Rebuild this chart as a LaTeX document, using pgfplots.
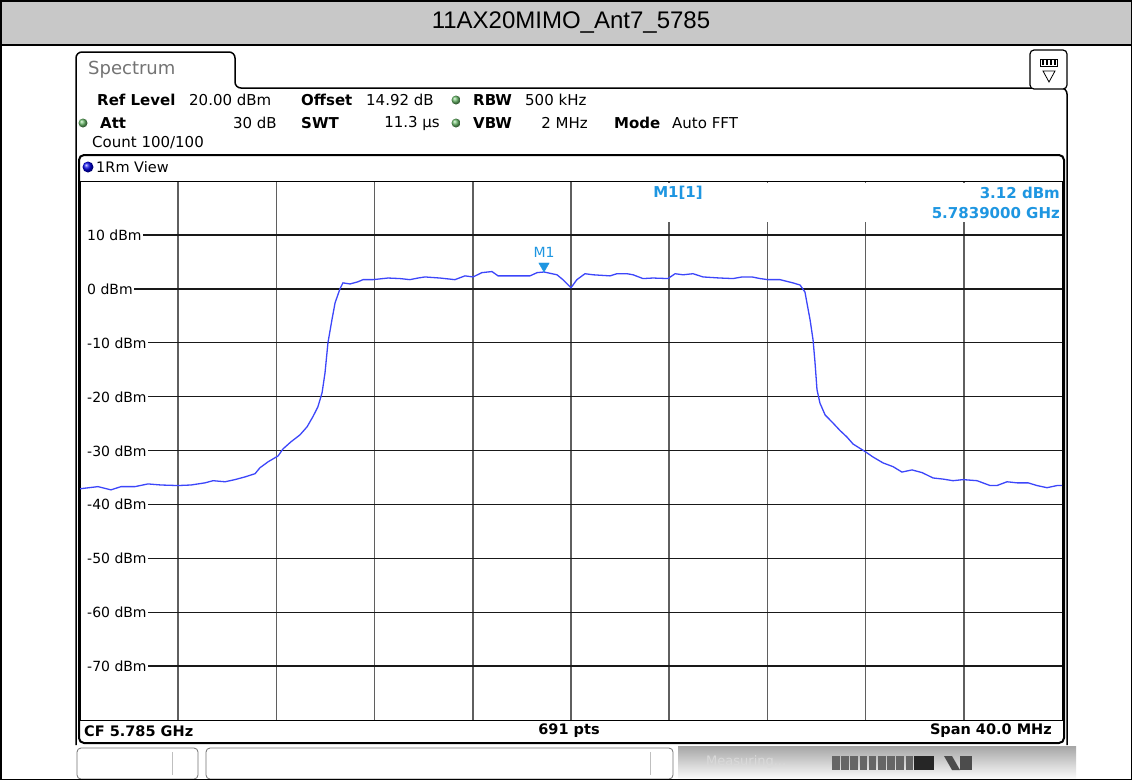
\documentclass[border=0pt]{standalone}
\usepackage{pgfplots}
\pgfplotsset{compat=1.18}
\usepackage{fontspec}
\setmainfont{DejaVu Sans}
\newfontfamily\titlefont{Liberation Sans}
\definecolor{trace}{RGB}{60,70,250}
\definecolor{mk}{RGB}{30,150,225}
\definecolor{titlegray}{RGB}{200,200,200}
\definecolor{led}{RGB}{105,185,105}
\definecolor{vgrid}{RGB}{95,95,95}
\newcommand{\fs}[1]{\fontsize{#1}{#1}\selectfont}
\begin{document}
\begin{tikzpicture}[x=1pt,y=1pt]
\fill[white] (0,0) rectangle (1132,-780);
% title bar
\fill[titlegray] (0,0) rectangle (1132,-45);
\draw[line width=1.5pt] (0,-45) -- (1132,-45);
\node at (571,-23) {\titlefont\fs{24}11AX20MIMO\_Ant7\_5785};
% outer instrument frame with tab
\draw[line width=1.5pt, rounded corners=6pt] (76,-745) -- (76,-52) -- (235,-52) -- (235,-88) -- (1067,-88) -- (1067,-745);
\node[anchor=west, text=black!55, inner sep=0pt] at (88,-70) {\fs{18}Spectrum};
% icon
\draw[line width=1.2pt, rounded corners=4pt, fill=white] (1030,-50) rectangle (1067,-89);
\draw[line width=0.8pt] (1040,-59) rectangle (1057,-66);
\foreach \k in {0,1,2,3} {\fill (1041.5+\k*4,-60) rectangle (1043.5+\k*4,-65);}
\draw[line width=0.8pt] (1043,-71) -- (1055,-71) -- (1049,-82) -- cycle;
% header texts
\begin{scope}[every node/.style={inner sep=0pt}]
\node[anchor=west] at (97,-100) {\fs{15}\textbf{Ref Level}};
\node[anchor=west] at (189,-100) {\fs{15}20.00 dBm};
\node[anchor=west] at (301,-100) {\fs{15}\textbf{Offset}};
\node[anchor=west] at (366,-100) {\fs{15}14.92 dB};
\node[anchor=west] at (473,-100) {\fs{15}\textbf{RBW}};
\node[anchor=west] at (525,-100) {\fs{15}500 kHz};
\node[anchor=west] at (100,-123) {\fs{15}\textbf{Att}};
\node[anchor=east] at (277,-123) {\fs{15}30 dB};
\node[anchor=west] at (301,-123) {\fs{15}\textbf{SWT}};
\node[anchor=east] at (440,-123) {\fs{15}11.3 µs};
\node[anchor=west] at (473,-123) {\fs{15}\textbf{VBW}};
\node[anchor=east] at (588,-123) {\fs{15}2 MHz};
\node[anchor=west] at (614,-123) {\fs{15}\textbf{Mode}};
\node[anchor=west] at (672,-123) {\fs{15}Auto FFT};
\node[anchor=west] at (92,-143) {\fs{15}Count 100/100};
\end{scope}
\foreach \p in {(456,-100),(456,-123),(83,-123)} {\shade[ball color=led] \p circle (4.5pt);}
% plot panel
\draw[line width=2pt, rounded corners=5pt] (79,-155) rectangle (1064,-743);
\shade[ball color=blue!90!black] (88,-167) circle (5.5pt);
\node[anchor=west, inner sep=0pt] at (96,-167) {\fs{14.5}1Rm View};
\begin{axis}[
  at={(80pt,-720pt)}, anchor=south west,
  scale only axis, width=982pt, height=539pt,
  xmin=5765, xmax=5805, ymin=-80, ymax=20,
  xtick={5769,5773,5777,5781,5785,5789,5793,5797,5801},
  ytick={-70,-60,-50,-40,-30,-20,-10,0,10},
  xticklabels={}, yticklabels={},
  major tick length=0pt,
  grid=major,
  major x grid style={draw=vgrid, line width=1.7pt},
  major y grid style={draw=black!90, line width=1.4pt},
  axis line style={draw=black, line width=1pt},
]
\addplot[trace, line width=1.3pt] coordinates {
(5765.00,-37.1) (5765.73,-36.7) (5766.26,-37.3) (5766.67,-36.7) (5767.24,-36.7) (5767.77,-36.2) (5768.30,-36.4) (5768.99,-36.5) (5769.52,-36.4) (5770.09,-36.0) (5770.42,-35.6) (5770.91,-35.8) (5771.31,-35.4) (5771.72,-34.9) (5772.13,-34.3) (5772.33,-33.2) (5772.66,-32.1) (5773.07,-31.0) (5773.27,-29.7) (5773.59,-28.4) (5773.96,-27.1) (5774.25,-25.6) (5774.49,-23.7) (5774.69,-21.9) (5774.86,-19.3) (5774.98,-15.6) (5775.10,-10.0) (5775.26,-5.8) (5775.39,-2.6) (5775.59,0.0) (5775.71,1.1) (5776.00,0.9) (5776.32,1.3) (5776.53,1.7) (5776.93,1.7) (5777.55,2.0) (5778.03,1.9) (5778.44,1.7) (5778.77,2.0) (5779.05,2.2) (5779.66,2.0) (5780.27,1.7) (5780.68,2.4) (5781.01,2.2) (5781.37,3.0) (5781.78,3.2) (5782.03,2.4) (5782.80,2.4) (5783.33,2.4) (5783.62,3.0) (5783.90,3.12) (5784.43,2.6) (5784.67,1.7) (5785.00,0.2) (5785.24,1.7) (5785.57,2.8) (5785.90,2.6) (5786.59,2.4) (5786.87,2.8) (5787.28,2.8) (5787.53,2.6) (5787.93,1.9) (5788.34,2.0) (5788.95,1.9) (5789.24,2.8) (5789.56,2.6) (5789.97,2.8) (5790.38,2.2) (5791.07,2.0) (5791.60,1.9) (5791.97,2.2) (5792.37,2.2) (5792.70,1.9) (5793.02,1.7) (5793.51,1.7) (5794.04,1.1) (5794.33,0.7) (5794.53,-0.6) (5794.61,-2.6) (5794.74,-5.8) (5794.86,-9.5) (5794.94,-13.7) (5795.02,-18.7) (5795.14,-21.2) (5795.35,-23.4) (5795.63,-24.7) (5795.96,-26.3) (5796.24,-27.5) (5796.49,-28.8) (5796.98,-30.2) (5797.30,-31.2) (5797.71,-32.3) (5798.12,-33.0) (5798.48,-34.0) (5798.89,-33.6) (5799.30,-34.1) (5799.75,-35.1) (5800.15,-35.3) (5800.56,-35.6) (5800.97,-35.4) (5801.54,-35.6) (5802.07,-36.5) (5802.35,-36.5) (5802.76,-35.8) (5803.17,-36.0) (5803.62,-36.0) (5803.98,-36.5) (5804.39,-36.9) (5804.80,-36.5) (5805.00,-36.5)
};
\addplot[only marks, mark=triangle*, mark size=6pt, mark options={yshift=6pt, rotate=180, fill=mk, draw=mk}] coordinates {(5783.90,3.12)};
\node[text=mk, inner sep=0pt] at (axis cs:5783.90,3.12) [yshift=20pt] {\fs{14}M1};
\end{axis}
% cover grid behind marker info
\fill[white] (576,-183) rectangle (1060,-222);
\node[anchor=center, text=mk, inner sep=0pt] at (678,-193) {\fs{15}\textbf{M1[1]}};
\node[anchor=east, text=mk, inner sep=0pt] at (1060,-193) {\fs{15}\textbf{3.12 dBm}};
\node[anchor=east, text=mk, inner sep=0pt] at (1060,-213) {\fs{15}\textbf{5.7839000 GHz}};
% y labels
\foreach \v/\py in {10/235,0/289,-10/343,-20/397,-30/451,-40/504,-50/558,-60/612,-70/666} {
  \node[anchor=west, fill=white, inner xsep=1pt, inner ysep=2pt] at (81,-\py) {\fs{14}\hspace*{5pt}\v{} dBm};
}
% bottom info bar
\node[anchor=west, inner sep=0pt] at (84,-731) {\fs{14.5}\textbf{CF 5.785 GHz}};
\node[inner sep=0pt] at (569,-731) {\fs{14.5}\textbf{691 pts}};
\node[anchor=east, inner sep=0pt] at (1052,-731) {\fs{14.5}\textbf{Span 40.0 MHz}};
% status strip
\draw[black!55, line width=0.8pt, rounded corners=4pt] (77,-748) rectangle (198,-779);
\draw[black!25] (172,-752) -- (172,-775);
\draw[black!55, line width=0.8pt, rounded corners=4pt] (206,-748) rectangle (673,-779);
\draw[black!25] (650,-752) -- (650,-775);
\shade[top color=black!35, bottom color=white] (678,-746) rectangle (1076,-780);
\node[anchor=west, text=white!85!black, inner sep=0pt] at (706,-762) {\fs{13}Measuring...};
\foreach \k in {0,...,8} {\fill[black!60] (832+\k*9.2,-756) rectangle (839.5+\k*9.2,-770);}
\fill[black!85] (914,-756) rectangle (934,-770);
\fill[black!70] (944,-756) -- (952,-756) -- (960,-770) -- (952,-770) -- cycle;
\fill[black!70] (960,-756) rectangle (972,-770);
% outer border
\draw[line width=1.5pt] (0.75,-0.75) rectangle (1131.25,-779.25);
\pgfresetboundingbox
\path (0,0) rectangle (1132,-780);
\end{tikzpicture}
\end{document}
